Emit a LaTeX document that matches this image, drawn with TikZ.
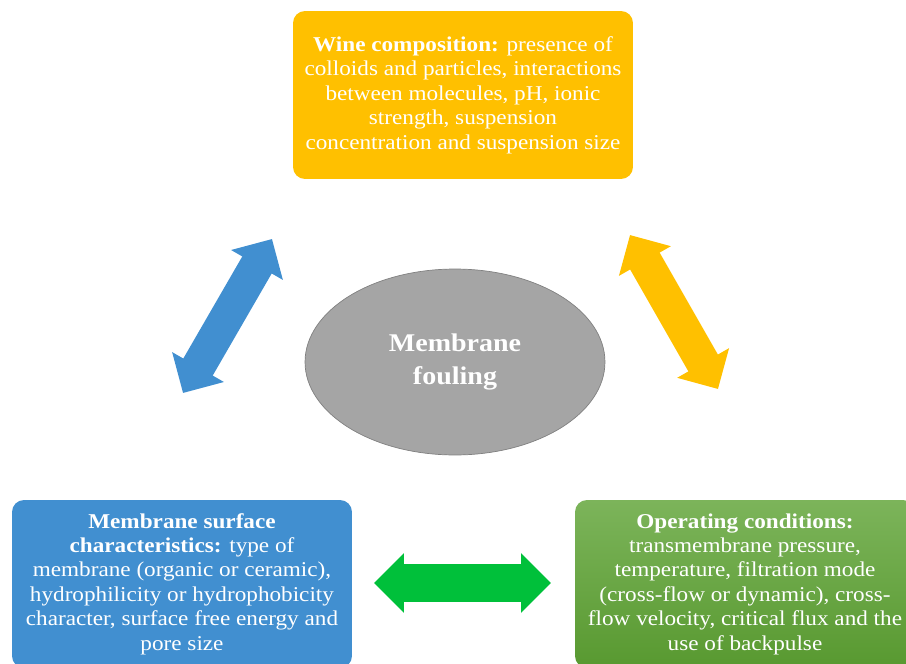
\documentclass[tikz,border=0pt]{standalone}
\usepackage{fontspec}
\setmainfont[FakeStretch=1.1]{Liberation Serif}
\usetikzlibrary{positioning, shapes.geometric, arrows.meta}
\definecolor{wineorange}{RGB}{255,192,0}
\definecolor{membblue}{RGB}{65,143,208}
\definecolor{opgreentop}{RGB}{124,180,90}
\definecolor{opgreenbot}{RGB}{88,153,48}
\definecolor{linkgreen}{RGB}{0,192,58}
\definecolor{corefill}{RGB}{165,165,165}
\definecolor{coreline}{RGB}{128,128,128}
\newcommand{\itemfont}{\fontsize{12}{13.9}\selectfont}
\newcommand{\corefont}{\fontsize{14.5}{18.7}\selectfont\bfseries}
\tikzstyle{FatArrow} = [
%Create double block arrow:
line width = 0.68cm,
arrows = {Triangle[width=1.16cm, length=0.6cm]-Triangle[width=1.16cm, length=0.6cm]}
]

\begin{document}
\begin{tikzpicture}[x=0.02cm, y=-0.02cm,
			factor/.style = {rectangle, rounded corners = 0.24cm, text centered, align = center, text = white, font = \itemfont, minimum width = 6.8cm, minimum height = 3.36cm, inner sep = 0pt},
			core/.style = {ellipse, draw = coreline, fill = corefill, text centered, align = center, text = white, font = \corefont, minimum width = 6cm, minimum height = 3.72cm},
		]
		\clip (0,0) rectangle (906,663);

		\node[factor, fill = wineorange](wine) at (463,95){\textbf{Wine composition:} presence of\\ colloids and particles, interactions\\ between molecules, pH, ionic\\ strength, suspension\\ concentration and suspension size};
		\node[factor, fill = membblue](surface) at (182,584){\textbf{Membrane surface}\\ \textbf{characteristics:} type of\\ membrane (organic or ceramic),\\ hydrophilicity or hydrophobicity\\ character, surface free energy and\\ pore size};
		\node[factor, top color = opgreentop, bottom color = opgreenbot](operating) at (745,584){\textbf{Operating conditions:}\\ transmembrane pressure,\\ temperature, filtration mode\\ (cross-flow or dynamic), cross-\\ flow velocity, critical flux and the\\ use of backpulse};
		\node[core](fouling) at (455,362){Membrane\\ fouling};

		\coordinate(blueA) at (183,393);
		\coordinate(blueB) at (272,239);
		\coordinate(orangeA) at (630,235);
		\coordinate(orangeB) at (718,389);
		\coordinate(greenA) at (374,583);
		\coordinate(greenB) at (551,583);

		\draw[FatArrow, membblue](blueA)--(blueB);
		\draw[FatArrow, wineorange](orangeA)--(orangeB);
		\draw[FatArrow, linkgreen, line width = 0.76cm](greenA)--(greenB);
	\end{tikzpicture}
\end{document}
